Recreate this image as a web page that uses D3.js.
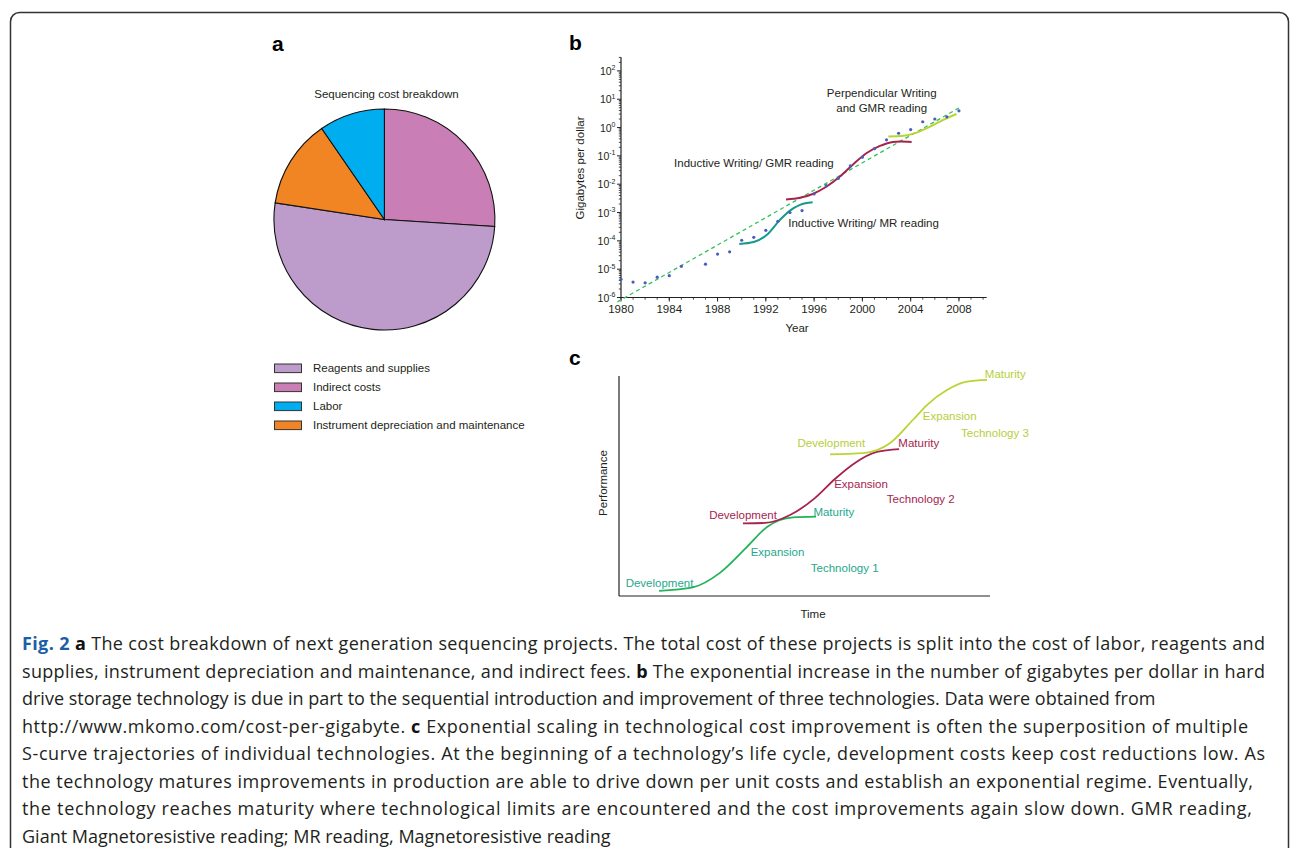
<!DOCTYPE html>
<html><head><meta charset="utf-8">
<script src="https://cdn.jsdelivr.net/npm/d3@7"></script>
<style>body{margin:0;background:#fff}svg{display:block}</style>
</head><body>
<svg id="fig" width="1290" height="848"></svg>
<script>
// ---------- Panel a data ----------
const pieCategories = ["Reagents and supplies", "Indirect costs", "Labor", "Instrument depreciation and maintenance"];
const pieValues = [51.4, 26, 9.6, 13];
const pieColors = ["#bd9bcb", "#c97fb5", "#00aeef", "#f28523"];
const pieDrawOrder = ["Indirect costs", "Reagents and supplies", "Instrument depreciation and maintenance", "Labor"];

// ---------- Panel b data ----------
const storageYears = [1980, 1981, 1982, 1983, 1984, 1985, 1987, 1988, 1989, 1990, 1991, 1992, 1993, 1994, 1995, 1996, 1997, 1998, 1999, 2000, 2001, 2002, 2003, 2004, 2005, 2006, 2007, 2008];
const storageGbPerDollar = [4.4e-6, 3.5e-6, 3.3e-6, 5.2e-6, 5.9e-6, 1.26e-5, 1.5e-5, 3.4e-5, 4.1e-5, 1.05e-4, 1.33e-4, 2.35e-4, 4.9e-4, 1.0e-3, 1.17e-3, 4.5e-3, 8.9e-3, 1.6e-2, 4.4e-2, 9.0e-2, 0.18, 0.37, 0.63, 0.85, 1.6, 2.0, 2.4, 3.9];
const trendYears = [1979.7, 2008.1];
const trendValues = [7.0e-7, 5.2];
const mrYears = [1989.8, 1991.0, 1992.07, 1993.17, 1994.0, 1994.83, 1995.88];
const mrValues = [7.8e-5, 9.1e-5, 1.62e-4, 5.5e-4, 1.17e-3, 1.86e-3, 2.3e-3];
const gmrYears = [1993.67, 1994.83, 1995.93, 1997.04, 1998.14, 1999.25, 2000.36, 2001.46, 2002.54, 2003.1, 2004.08];
const gmrValues = [2.9e-3, 3.3e-3, 4.6e-3, 8.3e-3, 1.86e-2, 5.1e-2, 0.126, 0.224, 0.31, 0.32, 0.31];
const pmrYears = [2002.15, 2003.39, 2004.5, 2005.6, 2006.7, 2007.8];
const pmrValues = [0.48, 0.51, 0.66, 1.08, 1.86, 3.0];
const xTickYears = [1980, 1984, 1988, 1992, 1996, 2000, 2004, 2008];
const yTickExponents = [-6, -5, -4, -3, -2, -1, 0, 1, 2];

// ---------- Panel c data (arbitrary time / performance units) ----------
const tech1Time = [10.8, 19.9, 27.2, 34.5, 39.9, 46.9, 53.1];
const tech1Perf = [2.3, 3.9, 10.5, 22.3, 31.4, 35.7, 36.1];
const tech2Time = [33.4, 39.4, 46.1, 52.8, 58.2, 63.6, 69.5, 75.5];
const tech2Perf = [33.0, 33.2, 36.8, 44.5, 53.2, 60.5, 65.5, 66.8];
const tech3Time = [56.9, 65.8, 73.0, 79.2, 83.0, 88.4, 93.8, 99.2];
const tech3Perf = [64.4, 64.9, 69.4, 80.0, 86.8, 93.6, 97.4, 98.2];
const phaseLabels = ["Development", "Expansion", "Maturity"];
const techLabels = ["Technology 1", "Technology 2", "Technology 3"];

// ---------- Caption ----------
const captionLines = [
  [["Fig. 2", "fig"], [" ", ""], ["a", "b"], [" The cost breakdown of next generation sequencing projects. The total cost of these projects is split into the cost of labor, reagents and", ""]],
  [["supplies, instrument depreciation and maintenance, and indirect fees. ", ""], ["b", "b"], [" The exponential increase in the number of gigabytes per dollar in hard", ""]],
  [["drive storage technology is due in part to the sequential introduction and improvement of three technologies. Data were obtained from", ""]],
  [["http://www.mkomo.com/cost-per-gigabyte. ", ""], ["c", "b"], [" Exponential scaling in technological cost improvement is often the superposition of multiple", ""]],
  [["S-curve trajectories of individual technologies. At the beginning of a technology\u2019s life cycle, development costs keep cost reductions low. As", ""]],
  [["the technology matures improvements in production are able to drive down per unit costs and establish an exponential regime. Eventually,", ""]],
  [["the technology reaches maturity where technological limits are encountered and the cost improvements again slow down. GMR reading,", ""]],
  [["Giant Magnetoresistive reading; MR reading, Magnetoresistive reading", ""]]
];
const captionLineEnds = [1265, 1265, null, 1248, 1265, 1253, 1252, null];

// ================= drawing =================
const svg = d3.select("#fig");
const FONT = "'Liberation Sans', Arial, Helvetica, sans-serif";
const INK = "#231f20";

// frame
svg.append("rect").attr("x", 10.5).attr("y", 12.5).attr("width", 1278).attr("height", 900)
  .attr("rx", 9).attr("fill", "none").attr("stroke", "#333").attr("stroke-width", 1.5);

function panelLabel(t, x, y) {
  svg.append("text").attr("x", x).attr("y", y).text(t)
    .attr("font-family", FONT).attr("font-weight", "bold").attr("font-size", 21).attr("fill", "#000");
}
panelLabel("a", 272, 50.5);
panelLabel("b", 569, 50);
panelLabel("c", 569, 365);

// ---------- Panel a ----------
const gA = svg.append("g").attr("transform", "translate(384.4,219.5)");
const pieData = pieDrawOrder.map(n => ({ name: n, value: pieValues[pieCategories.indexOf(n)], color: pieColors[pieCategories.indexOf(n)] }));
const pie = d3.pie().sort(null).value(d => d.value);
const arc = d3.arc().innerRadius(0).outerRadius(110.5);
gA.selectAll("path").data(pie(pieData)).join("path")
  .attr("d", arc).attr("fill", d => d.data.color).attr("stroke", "#111").attr("stroke-width", 1.1);
svg.append("text").attr("x", 386.5).attr("y", 97.5).attr("text-anchor", "middle")
  .attr("font-family", FONT).attr("font-size", 11.5).attr("fill", INK).text("Sequencing cost breakdown");

const legY = d3.scalePoint().domain(pieCategories).range([368.3, 425.3]);
const leg = svg.append("g");
leg.selectAll("rect").data(pieCategories).join("rect")
  .attr("x", 274.5).attr("y", d => legY(d) - 4.3).attr("width", 27).attr("height", 8.6)
  .attr("fill", (d, i) => pieColors[i]).attr("stroke", "#333").attr("stroke-width", 1);
leg.selectAll("text").data(pieCategories).join("text")
  .attr("x", 313).attr("y", d => legY(d) + 4).text(d => d)
  .attr("font-family", FONT).attr("font-size", 11.5).attr("fill", INK);

// ---------- Panel b ----------
const xB = d3.scaleLinear().domain([1980, 2010.3]).range([621, 986.7]);
const yB = d3.scaleLog().domain([1e-6, Math.pow(10, 2.48)]).range([297.5, 57.3]);
const gB = svg.append("g");

// y axis
gB.append("line").attr("x1", xB(1980)).attr("x2", xB(1980)).attr("y1", yB.range()[0]).attr("y2", yB.range()[1])
  .attr("stroke", "#222").attr("stroke-width", 1.2);
const minorY = [];
yTickExponents.forEach(e => { for (let m = 2; m <= 9; m++) { const v = m * Math.pow(10, e); if (v <= yB.domain()[1]) minorY.push(v); } });
gB.selectAll("line.ymin").data(minorY).join("line").attr("class", "ymin")
  .attr("x1", xB(1980) - 2.2).attr("x2", xB(1980)).attr("y1", d => yB(d)).attr("y2", d => yB(d))
  .attr("stroke", "#222").attr("stroke-width", 0.8);
gB.selectAll("line.ymaj").data(yTickExponents).join("line").attr("class", "ymaj")
  .attr("x1", xB(1980) - 4).attr("x2", xB(1980)).attr("y1", d => yB(Math.pow(10, d))).attr("y2", d => yB(Math.pow(10, d)))
  .attr("stroke", "#222").attr("stroke-width", 1);
const yl = gB.selectAll("text.ylab").data(yTickExponents).join("text").attr("class", "ylab")
  .attr("x", xB(1980) - 5.5).attr("y", d => yB(Math.pow(10, d)) + 4)
  .attr("text-anchor", "end").attr("font-family", FONT).attr("font-size", 10.5).attr("fill", INK);
yl.append("tspan").text("10");
yl.append("tspan").attr("dy", -4.5).attr("font-size", 7).text(d => String(d));

// x axis
gB.append("line").attr("x1", xB(1980) - 0.6).attr("x2", xB.range()[1]).attr("y1", yB(1e-6)).attr("y2", yB(1e-6))
  .attr("stroke", "#222").attr("stroke-width", 1.2);
const minorX = d3.range(1980, 2011, 1);
gB.selectAll("line.xmin").data(minorX).join("line").attr("class", "xmin")
  .attr("x1", d => xB(d)).attr("x2", d => xB(d)).attr("y1", yB(1e-6)).attr("y2", yB(1e-6) + 2.2)
  .attr("stroke", "#222").attr("stroke-width", 0.8);
gB.selectAll("line.xmaj").data(xTickYears).join("line").attr("class", "xmaj")
  .attr("x1", d => xB(d)).attr("x2", d => xB(d)).attr("y1", yB(1e-6)).attr("y2", yB(1e-6) + 4)
  .attr("stroke", "#222").attr("stroke-width", 1);
gB.selectAll("text.xlab").data(xTickYears).join("text").attr("class", "xlab")
  .attr("x", d => xB(d)).attr("y", yB(1e-6) + 15).attr("text-anchor", "middle").text(d => d)
  .attr("font-family", FONT).attr("font-size", 11.5).attr("fill", INK);
gB.append("text").attr("x", 797).attr("y", 332).attr("text-anchor", "middle").text("Year")
  .attr("font-family", FONT).attr("font-size", 11.5).attr("fill", INK);
gB.append("text").attr("transform", "translate(584,168) rotate(-90)").attr("text-anchor", "middle")
  .text("Gigabytes per dollar").attr("font-family", FONT).attr("font-size", 11.5).attr("fill", INK);

const lineB = d3.line().x(d => xB(d[0])).y(d => yB(d[1])).curve(d3.curveMonotoneX);
const zip = (a, b) => a.map((v, i) => [v, b[i]]);
gB.append("path").attr("d", d3.line().x(d => xB(d[0])).y(d => yB(d[1]))(zip(trendYears, trendValues)))
  .attr("fill", "none").attr("stroke", "#35c05a").attr("stroke-width", 1.3).attr("stroke-dasharray", "4,3.2");
gB.append("path").attr("d", lineB(zip(mrYears, mrValues))).attr("fill", "none").attr("stroke", "#17998c").attr("stroke-width", 2);
gB.append("path").attr("d", lineB(zip(gmrYears, gmrValues))).attr("fill", "none").attr("stroke", "#a8234c").attr("stroke-width", 2);
gB.append("path").attr("d", lineB(zip(pmrYears, pmrValues))).attr("fill", "none").attr("stroke", "#b7d433").attr("stroke-width", 2);
gB.selectAll("circle").data(zip(storageYears, storageGbPerDollar)).join("circle")
  .attr("cx", d => xB(d[0])).attr("cy", d => yB(d[1])).attr("r", 1.6).attr("fill", "#4a5cc0");

function bText(t, year, val, anchor) {
  gB.append("text").attr("x", xB(year)).attr("y", yB(val)).attr("text-anchor", anchor).text(t)
    .attr("font-family", FONT).attr("font-size", 11.5).attr("fill", INK);
}
bText("Perpendicular Writing", 2001.6, Math.pow(10, 1.095), "middle");
bText("and GMR reading", 2001.6, Math.pow(10, 0.565), "middle");
bText("Inductive Writing/ GMR reading", 1984.4, Math.pow(10, -1.40), "start");
bText("Inductive Writing/ MR reading", 1993.86, Math.pow(10, -3.50), "start");

// ---------- Panel c ----------
const xC = d3.scaleLinear().domain([0, 100]).range([619, 990]);
const yC = d3.scaleLinear().domain([0, 100]).range([596, 376]);
const gC = svg.append("g");
gC.append("line").attr("x1", xC(0)).attr("x2", xC(0)).attr("y1", yC(0)).attr("y2", yC(100)).attr("stroke", "#222").attr("stroke-width", 1.2);
gC.append("line").attr("x1", xC(0)).attr("x2", xC(100)).attr("y1", yC(0)).attr("y2", yC(0)).attr("stroke", "#222").attr("stroke-width", 1.2);
gC.append("text").attr("x", 813).attr("y", 618).attr("text-anchor", "middle").text("Time")
  .attr("font-family", FONT).attr("font-size", 11.5).attr("fill", INK);
gC.append("text").attr("transform", "translate(606.5,483) rotate(-90)").attr("text-anchor", "middle").text("Performance")
  .attr("font-family", FONT).attr("font-size", 11.5).attr("fill", INK);

const lineC = d3.line().x(d => xC(d[0])).y(d => yC(d[1])).curve(d3.curveMonotoneX);
const techs = [
  { t: tech1Time, p: tech1Perf, curve: "#22b359", text: "#25a88c",
    lab: [[1.8, 3.95], [35.5, 18.2], [52.4, 36.4]], tech: [51.7, 10.9] },
  { t: tech2Time, p: tech2Perf, curve: "#a6234f", text: "#a6234f",
    lab: [[24.3, 35.0], [58.0, 49.1], [75.3, 67.9]], tech: [72.2, 42.3] },
  { t: tech3Time, p: tech3Perf, curve: "#b9d434", text: "#b5cf3c",
    lab: [[48.1, 67.6], [81.9, 80.0], [98.6, 99.0]], tech: [92.2, 72.1] }
];
techs.forEach((T, i) => {
  gC.append("path").attr("d", lineC(zip(T.t, T.p))).attr("fill", "none").attr("stroke", T.curve).attr("stroke-width", 1.8);
  phaseLabels.forEach((ph, j) => {
    gC.append("text").attr("x", xC(T.lab[j][0])).attr("y", yC(T.lab[j][1])).text(ph)
      .attr("font-family", FONT).attr("font-size", 11.5).attr("fill", T.text);
  });
  gC.append("text").attr("x", xC(T.tech[0])).attr("y", yC(T.tech[1])).text(techLabels[i])
    .attr("font-family", FONT).attr("font-size", 11.5).attr("fill", T.text);
});

// ---------- Caption ----------
const CAPFONT = "'Open Sans', 'Noto Sans', sans-serif";
const capX = 22;
const capBase = d3.scaleLinear().domain([0, 7]).range([650, 843]);
const capG = svg.append("g");
function buildLine(i, size) {
  const t = capG.append("text").attr("x", capX).attr("y", capBase(i))
    .attr("font-family", CAPFONT).attr("font-size", size).attr("fill", INK);
  captionLines[i].forEach(seg => {
    const s = t.append("tspan").text(seg[0]);
    if (seg[1] === "fig") s.attr("font-weight", "bold").attr("fill", "#1c5ea6");
    if (seg[1] === "b") s.attr("font-weight", "bold").attr("fill", "#111");
  });
  return t;
}
// choose font size from first line
const probe = buildLine(0, 16);
const nat = probe.node().getComputedTextLength();
probe.remove();
const capSize = Math.max(14, Math.min(18, 16 * (captionLineEnds[0] - capX) / nat));
captionLines.forEach((l, i) => {
  const t = buildLine(i, capSize);
  const end = captionLineEnds[i];
  if (end !== null) {
    const w = t.node().getComputedTextLength();
    const target = end - capX;
    if (Math.abs(w - target) / target < 0.12) t.attr("textLength", target).attr("lengthAdjust", "spacing");
  }
});
</script>
</body></html>
